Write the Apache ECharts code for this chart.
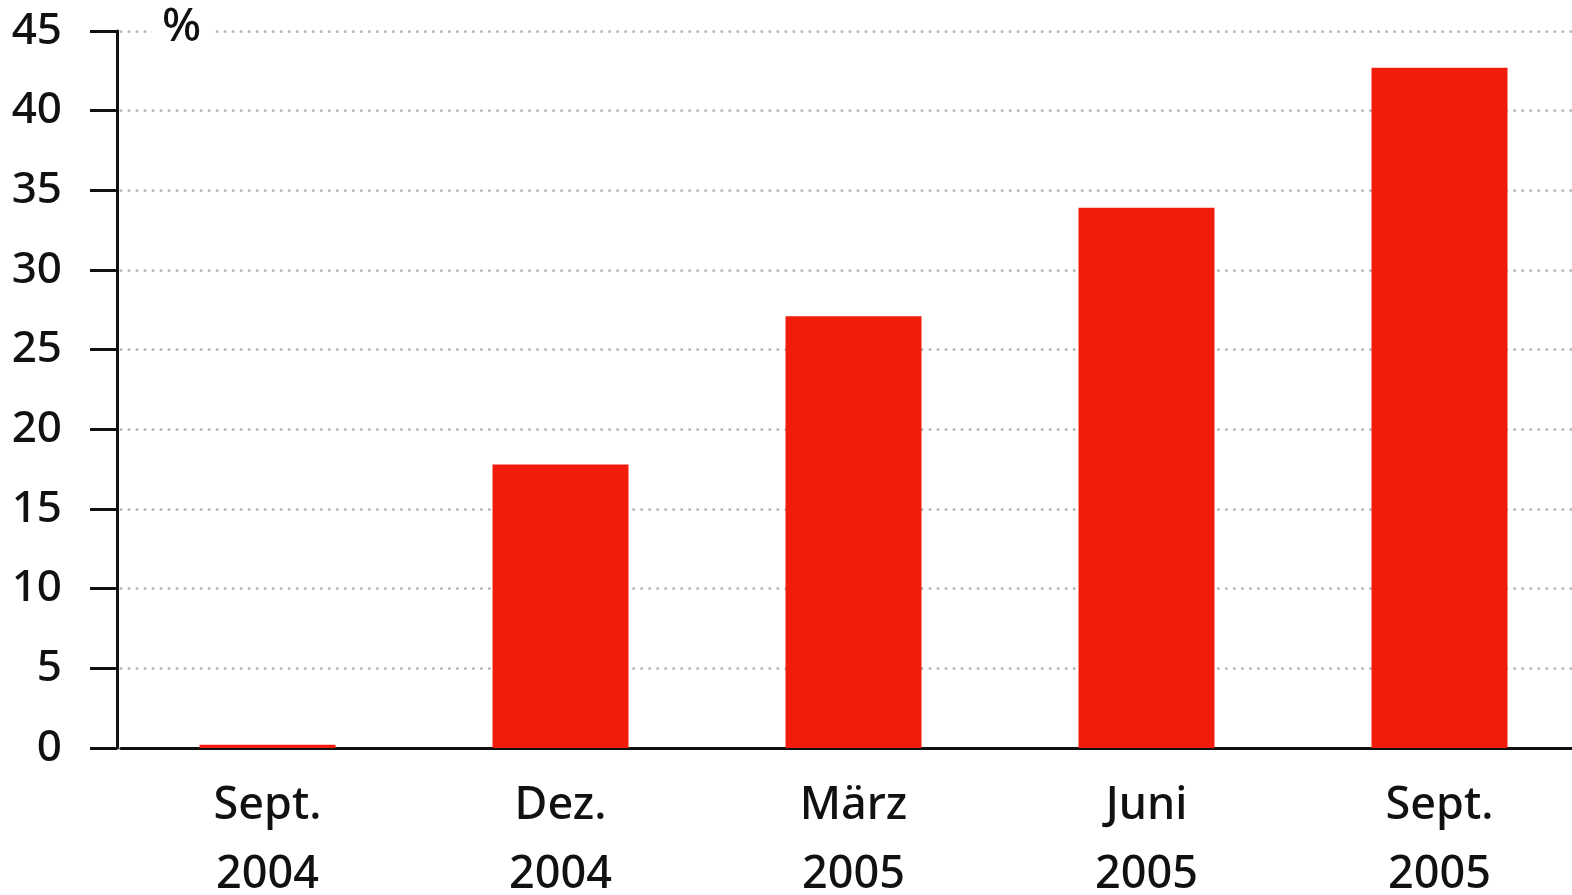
<!DOCTYPE html>
<html>
<head>
<meta charset="utf-8">
<style>html,body{margin:0;padding:0;background:#fff;}#c{width:1572px;height:895px;}</style>
<script src="https://cdn.jsdelivr.net/npm/echarts@6/dist/echarts.min.js"></script>
</head>
<body>
<div id="c"></div>
<script>
const categories = ['Sept.\n2004', 'Dez.\n2004', 'März\n2005', 'Juni\n2005', 'Sept.\n2005'];
const values = [0.2, 17.8, 27.1, 33.9, 42.7];
const yTicks = { min: 0, max: 45, interval: 5 };
const unitLabel = '%';

const FONT = '"Noto Sans", "Open Sans", sans-serif';
const chart = echarts.init(document.getElementById('c'));
chart.setOption({
  animation: false,
  backgroundColor: '#fff',
  title: {
    text: unitLabel,
    left: 152,
    top: 5,
    padding: [0, 10],
    backgroundColor: '#fff',
    textStyle: { fontFamily: FONT, fontSize: 46, fontWeight: 500, color: '#111' }
  },
  grid: { left: 121, top: 31, width: 1465, bottom: 147, containLabel: false, outerBoundsMode: 'none' },
  xAxis: {
    type: 'category',
    data: categories,
    boundaryGap: true,
    axisLine: { show: true, lineStyle: { color: '#111', width: 3 } },
    axisTick: { show: false },
    axisLabel: {
      color: '#111', fontFamily: FONT, fontSize: 45, fontWeight: 500, lineHeight: 69, margin: 24, interval: 0
    },
    splitLine: { show: false }
  },
  yAxis: {
    type: 'value',
    min: yTicks.min, max: yTicks.max, interval: yTicks.interval,
    offset: 4,
    axisLine: { show: true, lineStyle: { color: '#111', width: 3 } },
    axisTick: { show: true, length: 27, lineStyle: { color: '#111', width: 3 } },
    axisLabel: { color: '#111', fontFamily: FONT, fontSize: 44, fontWeight: 500, margin: 55 },
    splitLine: {
      show: true,
      lineStyle: { color: '#b9b9b9', width: 3, type: [0.01, 8], cap: 'round' }
    }
  },
  series: [{
    type: 'bar',
    data: values,
    barWidth: 136,
    itemStyle: { color: '#f21c0c' }
  }]
});
</script>
</body>
</html>
